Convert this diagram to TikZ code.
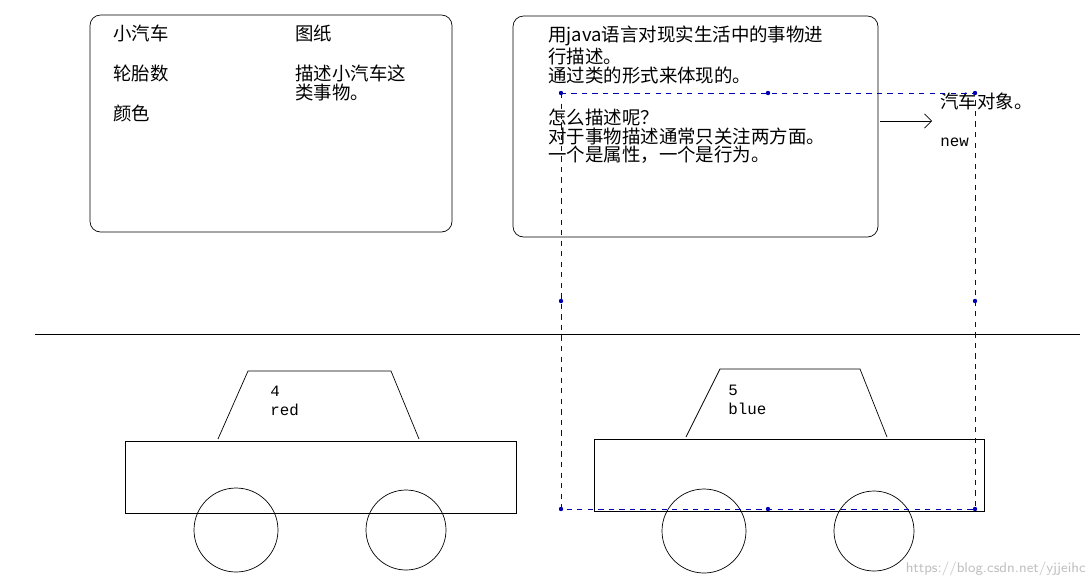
\documentclass[tikz,border=0pt]{standalone}
\usepackage{fontspec}
\setmainfont{Liberation Mono}
\newfontfamily\cjk{Noto Sans CJK SC}
\usetikzlibrary{arrows.meta,positioning}

\begin{document}
\begin{tikzpicture}[
    x=0.02cm, y=-0.02cm,
    panel/.style={draw, rounded corners=6pt, thin},
    txt/.style={anchor=north west, inner sep=0pt, font=\cjk\fontsize{10.5}{9.6}\selectfont, align=left},
    small/.style={anchor=north west, inner sep=0pt, font=\fontsize{9}{10.5}\selectfont, align=left},
    handle/.style={fill=blue!70!black, inner sep=0pt, minimum size=2.5pt, circle}
]
    \useasboundingbox (0,0) rectangle (1092,586);

    % blueprint panel
    \draw [panel] (90,15) rectangle (452,232);
    \node [txt] (car) at (113,25) {小汽车};
    \node [txt] (tyres) at (113,65) {轮胎数};
    \node [txt] (colour) at (113,105) {颜色};
    \node [txt] (paper) at (295,25) {图纸};
    \node [txt] (descr) at (295,65) {描述小汽车这\\类事物。};

    % description panel
    \draw [panel] (513,16) rectangle (878,237);
    \node [txt] (java) at (548,26) {用java语言对现实生活中的事物进\\行描述。\\通过类的形式来体现的。\\[13pt]怎么描述呢？\\对于事物描述通常只关注两方面。\\一个是属性，一个是行为。};

    \coordinate (from) at (880,121);
    \coordinate (to) at (932,121);
    \draw [-{Straight Barb[length=4pt]}] (from) -- (to);
    \node [txt] (obj) at (940,93) {汽车对象。};
    \node [small] (new) at (940,138) {new};

    % separator
    \draw (35,334) -- (1080,334);

    % first car
    \draw (125,441) rectangle (516,513);
    \draw (218,439) -- (248,371) -- (391,371) -- (419,439);
    \draw (236,530) circle (42);
    \draw (406,530) circle (40);
    \node [small] (four) at (270,386) {4\\red};

    % second car
    \draw (594,439) rectangle (984,511);
    \draw (686,437) -- (720,369) -- (860,369) -- (887,437);
    \draw (704,531) circle (42);
    \draw (874,531) circle (40);
    \node [small] (five) at (728,385) {5\\blue};

    % selection frame
    \draw [blue!70!black, dashed, thin] (561,93) rectangle (975,509);
    \foreach \hx/\hy in {561/93, 768/93, 975/93, 561/301, 975/301, 561/509, 768/509, 975/509}
        \node [handle] at (\hx,\hy) {};

    \node [anchor=south east, inner sep=0pt, text=gray!50, font=\sffamily\fontsize{8}{8}\selectfont] (mark) at (1086,576) {https://blog.csdn.net/yjjeihc};
\end{tikzpicture}
\end{document}
